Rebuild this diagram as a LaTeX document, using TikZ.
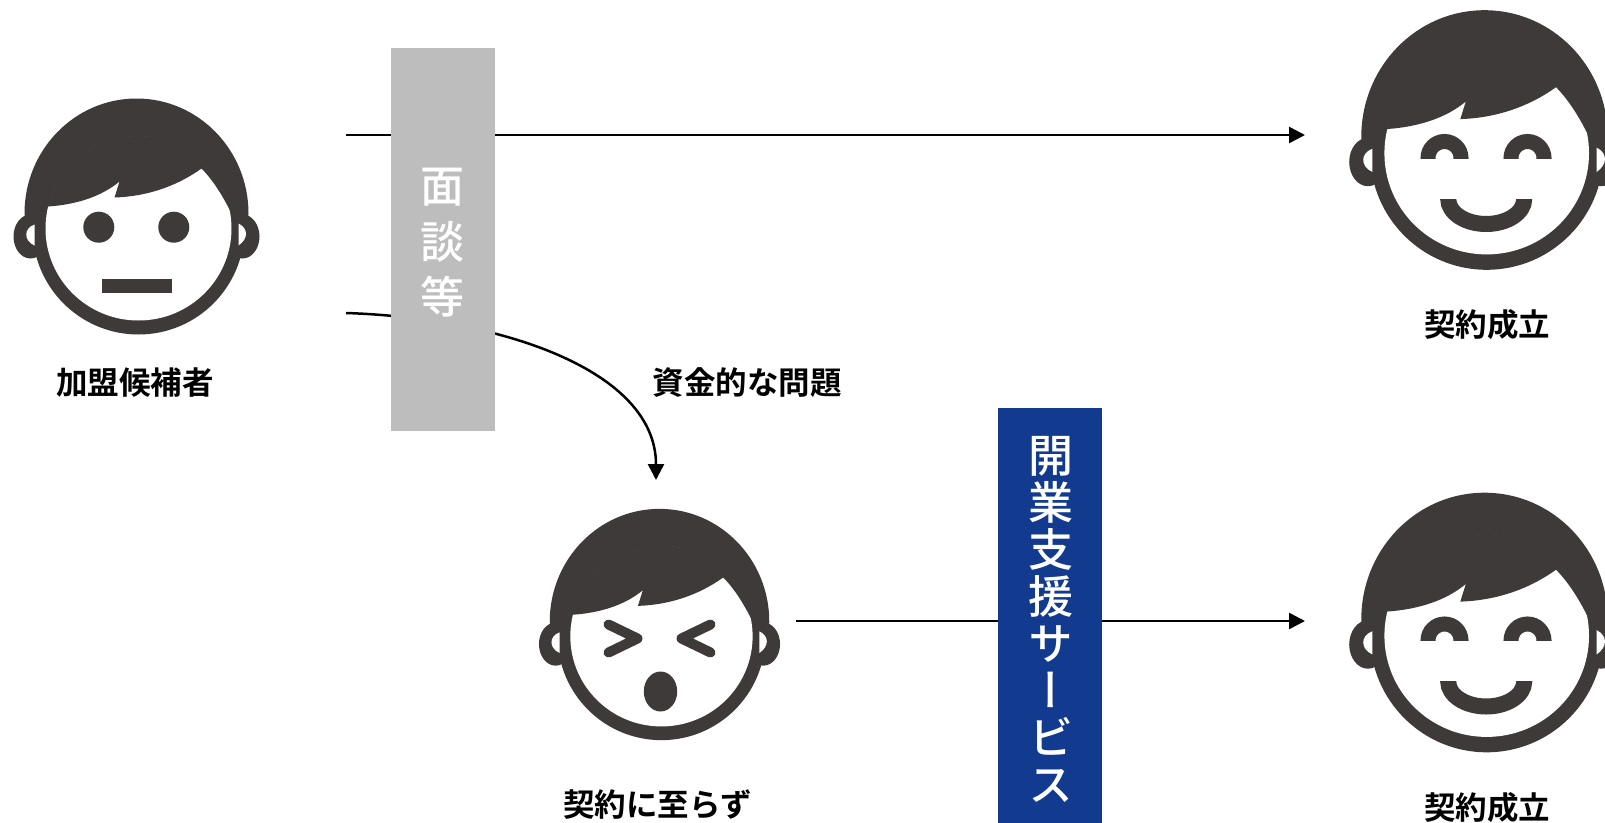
\documentclass[tikz,border=0pt]{standalone}
\usepackage{fontspec}
\usetikzlibrary{arrows.meta}
\newfontfamily\jpb[Script=CJK]{Noto Sans CJK JP Bold}
\newfontfamily\jpr[Script=CJK]{Noto Sans CJK JP Medium}
\newfontfamily\jpv[Script=CJK,RawFeature={+vert}]{Noto Sans CJK JP Medium}
\definecolor{ink}{HTML}{3E3A39}
\definecolor{navy}{HTML}{123A8E}
\definecolor{greybox}{HTML}{BDBDBD}
\tikzset{x=1pt,y=-1pt,
  conn/.style={line width=2.5pt,-{Triangle[length=16pt,width=16pt]}},
  lab/.style={font=\jpb\fontsize{31.5pt}{31.5pt}\selectfont,text=black,inner sep=0pt,anchor=center},
  vbox/.style={minimum width=104pt,inner sep=0pt,outer sep=0pt,anchor=north west},
  vtext/.style={text=white,inner sep=0pt,align=center}}
\newcommand{\facehead}{%
  \fill[ink] (-106,20) ellipse[x radius=17,y radius=22];
  \fill[ink] (106,20) ellipse[x radius=17,y radius=22];
  \begin{scope}
    \clip (-130,-130) rectangle (130,12);
    \fill[ink] (0,-3) ellipse[x radius=112,y radius=115];
  \end{scope}
  \fill[ink] (2,12) ellipse[x radius=106,y radius=106];
  \fill[white] (2,12) ellipse[x radius=93,y radius=92];
  \fill[white] (-102,8) .. controls (-113,12) and (-113,24) .. (-102,29) -- cycle;
  \fill[white] (102,7) .. controls (112,12) and (112,22) .. (102,29) -- cycle;
  \begin{scope}
    \clip (2,12) ellipse[x radius=93.5,y radius=92.5];
    \fill[ink] (-120,-10) -- (-88,-10) .. controls (-60,-12) and (-35,-20) .. (-17,-35)
      -- (-22,-19) .. controls (10,-20) and (40,-30) .. (65,-48)
      .. controls (78,-35) and (90,-15) .. (100,8) -- (120,8) -- (120,-130) -- (-120,-130) -- cycle;
  \end{scope}
}
\newcommand{\smileface}{%
  \foreach \xx in {-40,43}{
    \begin{scope}
      \clip (\xx-30,-20) rectangle (\xx+30,18);
      \draw[ink,line width=15pt] (\xx,18) ellipse[x radius=16.5,y radius=16.5];
    \end{scope}}
  \begin{scope}
    \clip (-60,59) rectangle (60,100);
    \draw[ink,line width=16pt] (1.7,59) ellipse[x radius=38,y radius=25];
  \end{scope}
}
\begin{document}
\begin{tikzpicture}
\useasboundingbox (0,0) rectangle (1605,822);
\clip (0,0) rectangle (1605,822);
\fill[white] (0,0) rectangle (1605,822);
\coordinate (a1s) at (346,135); \coordinate (a1e) at (1305,135);
\coordinate (a2s) at (346,313); \coordinate (a2e) at (656,480);
\coordinate (a3s) at (796,621); \coordinate (a3e) at (1305,621);
\draw[conn] (a1s) -- (a1e);
\draw[conn] (a2s) .. controls (500,318) and (656,370) .. (a2e);
\draw[conn] (a3s) -- (a3e);
\node[vbox,fill=greybox,minimum height=383pt] (b1) at (391,48) {};
\node[vbox,fill=navy,minimum height=420pt] (b2) at (998,408) {};
\node[vtext,font=\jpr\fontsize{44pt}{55.5pt}\selectfont] (t1) at (442.5,243) {面\\談\\等};
\node[vtext,font=\jpv\fontsize{45pt}{47pt}\selectfont] (t2) at (1050.5,619) {開\\業\\支\\援\\サ\\ー\\ビ\\ス};
\begin{scope}[shift={(136.5,216.5)}]
  \facehead
  \fill[ink] (-37.7,10.7) circle[radius=15.5];
  \fill[ink] (37.3,10.7) circle[radius=15.5];
  \fill[ink] (-35,62) rectangle (35,76);
\end{scope}
\begin{scope}[shift={(659.5,624.5)}]
  \begin{scope}[scale=0.98]\facehead\end{scope}
  \draw[ink,line width=10pt,line cap=round,line join=round] (-51,0) -- (-22,14) -- (-51,28);
  \draw[ink,line width=10pt,line cap=round,line join=round] (51,0) -- (22,14) -- (51,28);
  \fill[ink] (1,67) ellipse[x radius=16.7,y radius=20];
\end{scope}
\begin{scope}[shift={(1484.5,140)}]
  \begin{scope}[scale=1.1]\facehead\end{scope}
  \smileface
\end{scope}
\begin{scope}[shift={(1484.5,622.5)}]
  \begin{scope}[scale=1.1]\facehead\end{scope}
  \smileface
\end{scope}
\node[lab] (l1) at (135,383) {加盟候補者};
\node[lab] (l2) at (1487,325) {契約成立};
\node[lab] (l3) at (747,383) {資金的な問題};
\node[lab] (l4) at (657.5,805) {契約に至らず};
\node[lab] (l5) at (1487,808) {契約成立};
\end{tikzpicture}
\end{document}
